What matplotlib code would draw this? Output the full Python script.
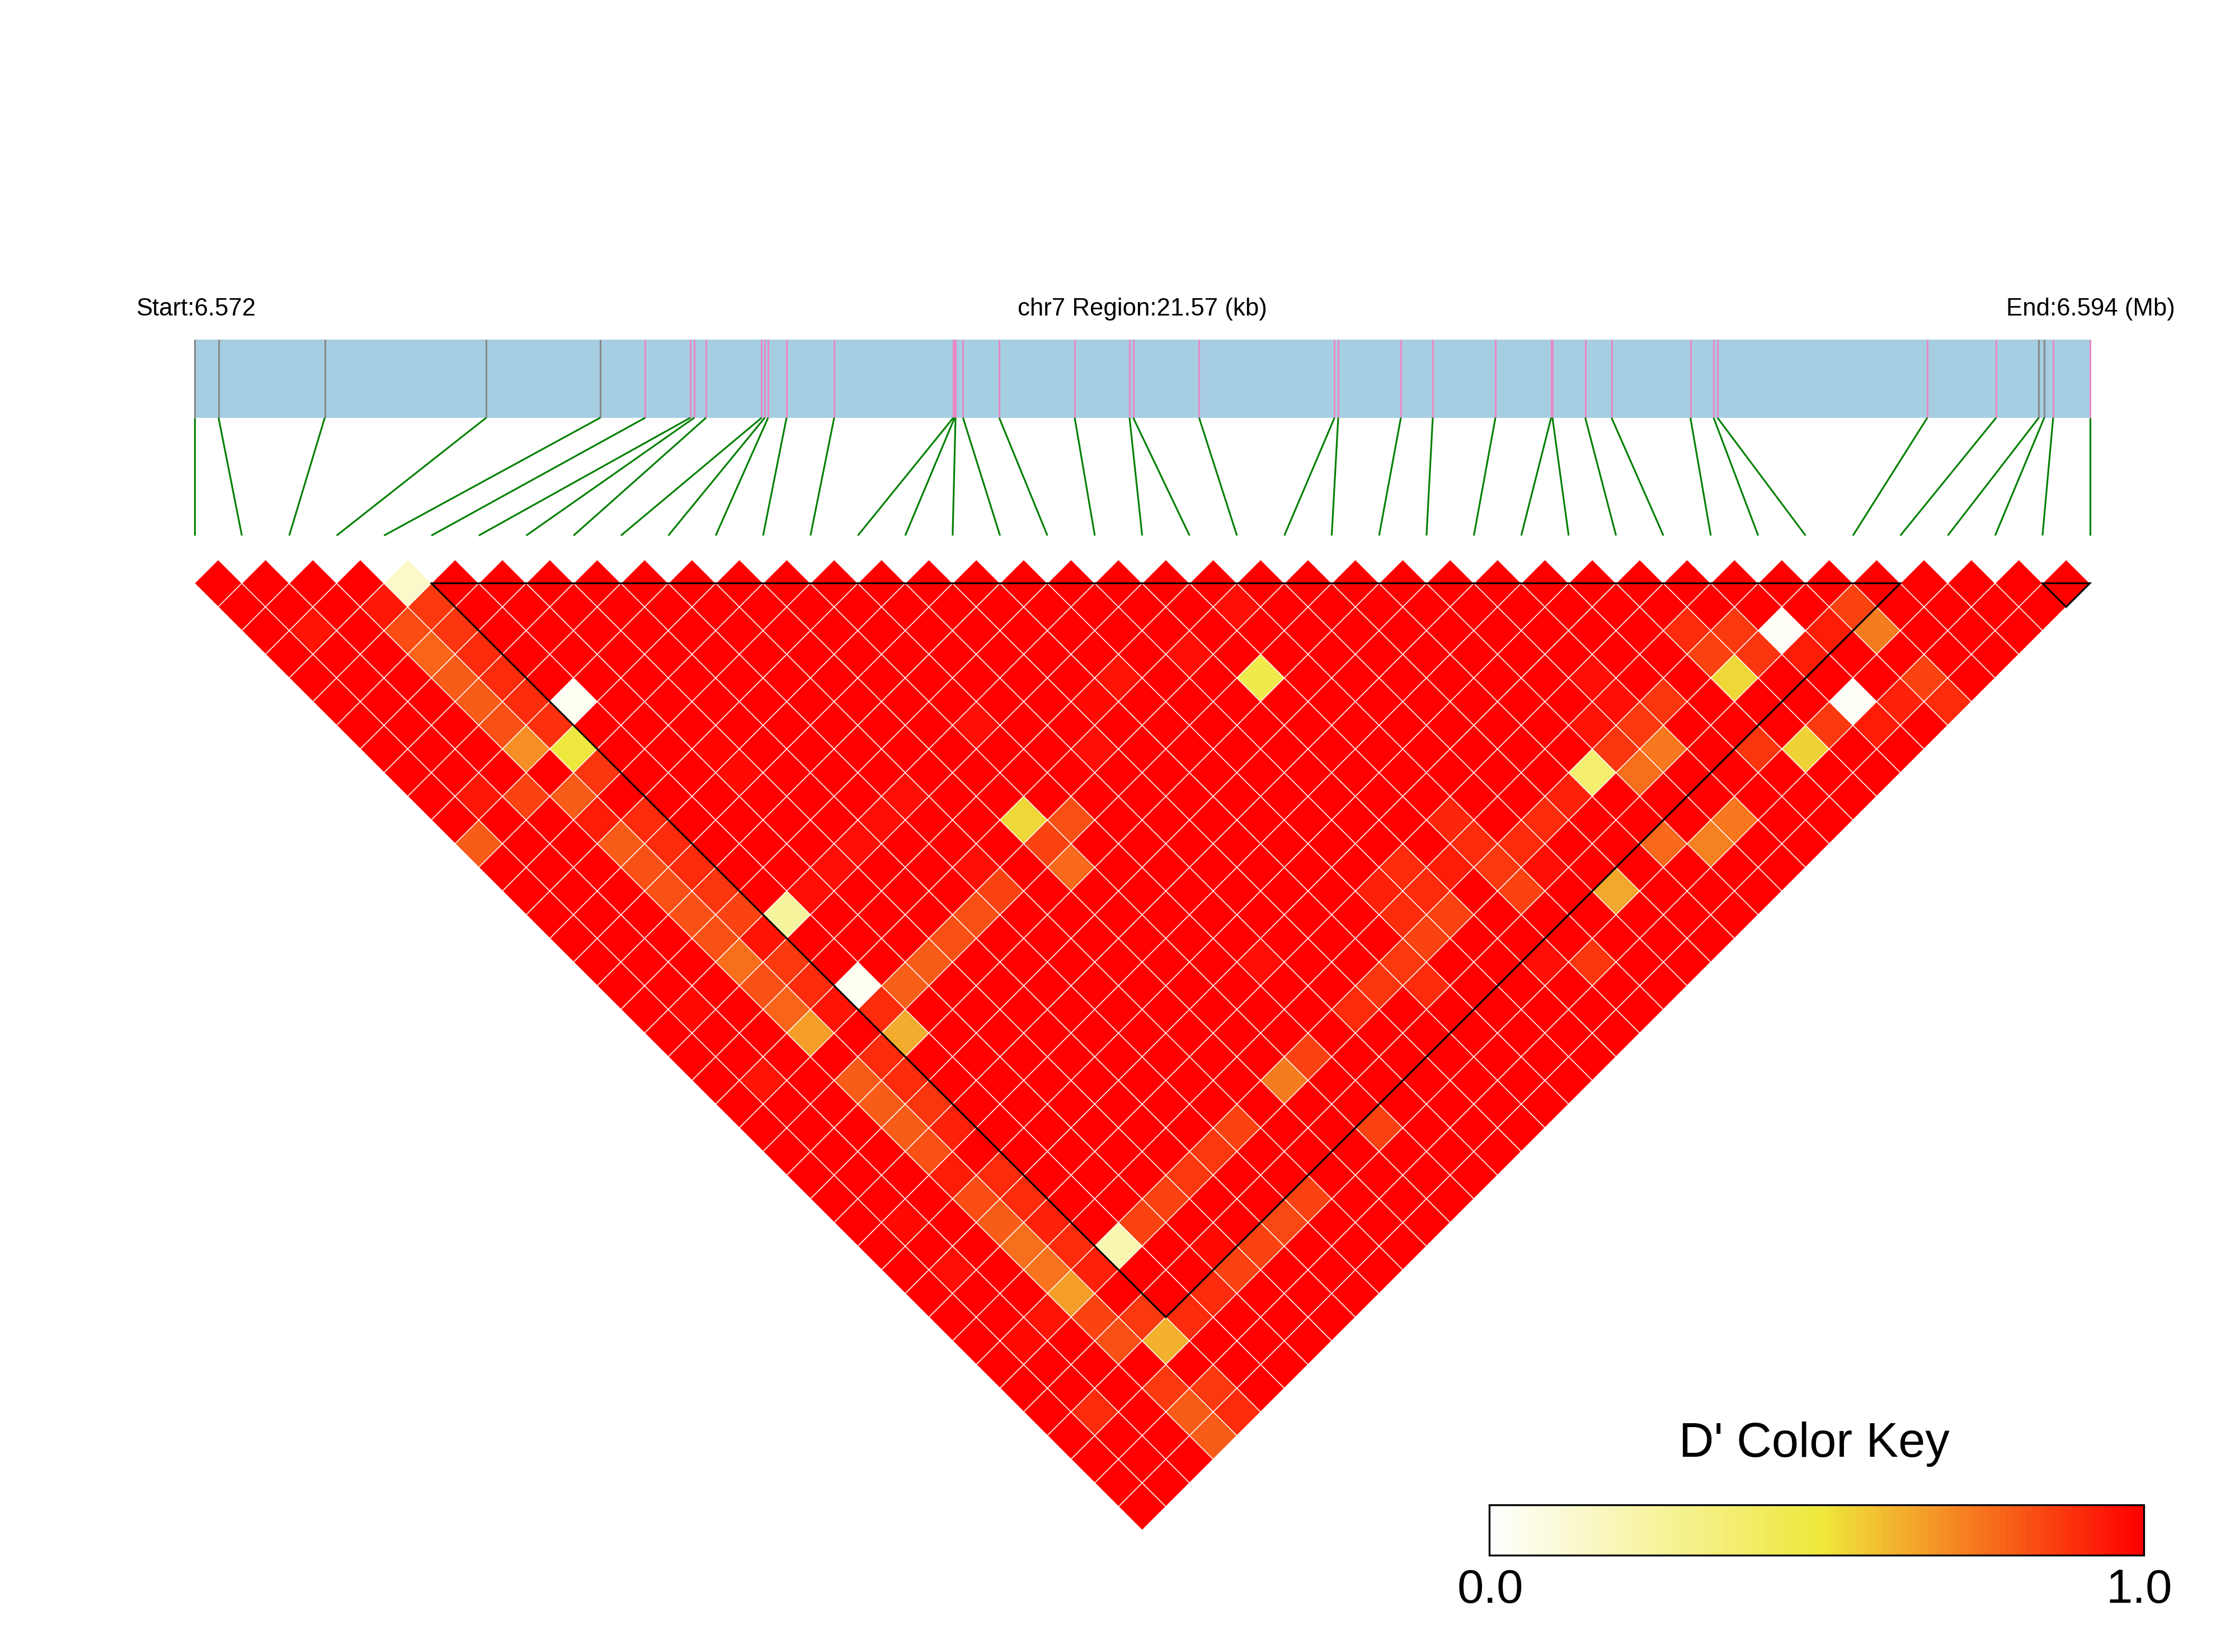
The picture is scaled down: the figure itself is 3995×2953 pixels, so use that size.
import numpy as np
import matplotlib
matplotlib.use("Agg")
import matplotlib.pyplot as plt
from matplotlib.collections import PolyCollection
from matplotlib.colors import LinearSegmentedColormap
from matplotlib.patches import Rectangle

plt.rcParams['font.family'] = ['Liberation Sans', 'DejaVu Sans']

# SNP positions within the region, kb from the region start
snp_kb = [0, .274, 1.483, 3.320, 4.618, 5.130, 5.643, 5.688, 5.822, 6.455, 6.490,
          6.528, 6.738, 7.280, 8.636, 8.651, 8.661, 8.746, 9.158, 10.017, 10.641,
          10.683, 11.433, 12.974, 13.016, 13.729, 14.092, 14.805, 15.439, 15.454,
          15.827, 16.126, 17.024, 17.288, 17.332, 19.720, 20.503, 20.989, 21.051,
          21.152, 21.57]
grey_snps = [0, 1, 2, 3, 4, 37, 38]
region_kb = 21.57

# D' values below 1, as (i+j, j-i-1, value); every other pair has D' = 1
weak_cells = [
 (9,0,.14),(10,1,.87),(8,1,.94),(9,2,.83),(11,2,.88),(5,2,.95),(10,3,.78),(12,3,.9),
 (11,4,.8),(13,4,.9),(12,5,.8),(14,5,.9),(16,5,.03),(13,6,.82),(15,6,.89),(14,7,.69),
 (16,7,.5),(33,6,.96),(17,8,.88),(12,9,.94),(14,9,.85),(16,9,.8),(30,9,.96),(38,7,.96),
 (22,7,.98),(23,8,.97),(12,11,.8),(17,10,.93),(19,10,.9),(29,10,.96),(35,10,.54),(37,10,.82),
 (18,11,.8),(20,11,.9),(28,11,.96),(36,11,.85),(37,12,.77),(19,12,.82),(21,12,.9),(27,12,.96),
 (33,12,.96),(20,13,.82),(22,13,.88),(26,13,.96),(34,13,.85),(21,14,.82),(23,14,.85),(25,14,.25),
 (33,14,.82),(32,15,.82),(31,16,.8),(30,17,.79),(22,15,.82),(24,15,.95),(23,16,.76),(25,16,.87),
 (28,17,.03),(24,17,.82),(26,17,.9),(25,18,.78),(27,18,.95),(29,18,.9),(26,19,.66),(30,19,.63),
 (21,18,.97),(29,20,.9),(28,21,.8),(24,21,.95),(30,21,.9),(29,22,.8),(31,22,.88),(30,23,.8),
 (32,23,.92),(31,24,.82),(32,25,.93),(34,25,.9),(33,26,.83),(35,26,.9),(34,27,.8),(36,27,.92),
 (35,28,.76),(37,28,.9),(39,28,.2),(36,29,.75),(38,29,.92),(37,30,.66),(36,31,.95),(38,31,.85),
 (40,31,.87),(39,32,.82),(41,32,.62),(35,32,.97),(42,31,.9),(43,30,.9),(44,29,.85),(45,28,.85),
 (46,27,.84),(47,26,.85),(40,27,.85),(41,26,.85),(42,25,.87),(43,24,.87),(44,23,.85),(46,21,.73),
 (47,20,.85),(45,16,.96),(50,17,.88),(49,18,.9),(50,23,.85),(41,34,.87),(43,34,.87),(42,35,.8),
 (44,35,.9),(43,36,.8),(38,35,.9),(30,27,.97),(32,29,.96),(43,28,.97),
 (45,4,.46),(44,1,.96),(42,3,.96),(40,4,.95),(39,5,.97),(63,2,.9),(65,2,.87),(67,2,.02),
 (69,2,.93),(70,1,.85),(71,2,.73),(64,3,.85),(66,3,.88),(68,3,.93),(65,4,.54),(62,5,.88),
 (60,5,.96),(61,6,.87),(59,6,.95),(62,7,.74),(60,7,.88),(59,8,.37),(61,8,.76),(58,9,.92),
 (57,10,.9),(53,10,.91),(56,11,.9),(54,11,.9),(55,12,.87),(56,13,.85),(53,12,.93),(51,12,.9),
 (50,13,.92),(52,13,.9),(51,14,.9),(53,14,.85),(52,15,.85),(51,16,.87),(52,17,.9),
 (70,5,.02),(69,6,.87),(71,6,.93),(68,7,.55),(66,7,.88),(72,5,.92),(73,4,.85),(74,5,.9),
 (65,10,.74),(62,11,.77),(64,11,.72),(60,13,.64),(59,16,.88),(57,16,.96),(59,4,.96),(58,12,.96),
]

# LD blocks, as first and last SNP index
blocks = [(5, 36), (39, 40)]

D = np.ones((len(snp_kb), len(snp_kb)))
for s, g, v in weak_cells:
    i, j = (s - g - 1) // 2, (s + g + 1) // 2
    D[i, j] = v

W, H = 3995, 2953
fig = plt.figure(figsize=(W / 300, H / 300), dpi=300)
ax = fig.add_axes([0, 0, 1, 1])
ax.set_xlim(0, W)
ax.set_ylim(H, 0)
ax.axis('off')

X0, X1 = 347.6, 3735.6
BAR_T, BAR_B, END_Y = 607, 746.7, 957.3
TOP_Y = 1042.6
hx = (X1 - X0) / 40 / 2
hy = 42.32
cmap = LinearSegmentedColormap.from_list(
    'dp', [(0, '#FFFFFF'), (.51, '#EFE83C'), (1, '#FF0000')], N=100)


def px(kb):
    return X0 + (X1 - X0) * np.asarray(kb) / region_kb


# gene bar and SNP ticks
ax.add_patch(Rectangle((X0, BAR_T), X1 - X0, BAR_B - BAR_T, fc='#A6CEE3', ec='none'))
n = len(snp_kb)
for k, kb in enumerate(snp_kb):
    xt = px(kb)
    ax.plot([xt, xt], [BAR_T, BAR_B], color='#888888' if k in grey_snps else '#E78AC3',
            lw=0.75, solid_capstyle='butt')
    xe = X0 + k * 2 * hx
    ax.plot([xt, xe], [BAR_B, END_Y], color='#008000', lw=0.75, solid_capstyle='butt')

# heatmap
polys, vals = [], []
for i in range(n):
    for j in range(i + 1, n):
        cx = X0 + (i + j) * hx
        cy = TOP_Y + (j - i - 1) * hy
        polys.append([(cx - hx, cy), (cx, cy - hy), (cx + hx, cy), (cx, cy + hy)])
        vals.append(D[i, j])
pc = PolyCollection(polys, array=np.array(vals), cmap=cmap, clim=(0, 1),
                    edgecolors='white', linewidths=0.35)
ax.add_collection(pc)

# LD block outlines
for a, b in blocks:
    xa = X0 + (2 * a) * hx
    xb = X0 + (2 * b) * hx
    xm = (xa + xb) / 2
    ym = TOP_Y + (b - a) * hy
    ax.plot([xa, xb, xm, xa], [TOP_Y, TOP_Y, ym, TOP_Y], color='black', lw=0.75,
            solid_joinstyle='miter')

# labels
ax.text(243, 564, 'Start:6.572', fontsize=10.5, ha='left', va='baseline')
ax.text(2042, 564, 'chr7 Region:21.57 (kb)', fontsize=10.5, ha='center', va='baseline')
ax.text(3888, 564, 'End:6.594 (Mb)', fontsize=10.5, ha='right', va='baseline')

# colour key
CB_L, CB_R, CB_T, CB_B = 2662, 3832, 2690, 2780
grad = np.linspace(0, 1, 100)[None, :]
ax.imshow(grad, cmap=cmap, vmin=0, vmax=1, extent=(CB_L, CB_R, CB_B, CB_T), aspect='auto',
          interpolation='nearest')
ax.set_xlim(0, W)
ax.set_ylim(H, 0)
ax.add_patch(Rectangle((CB_L, CB_T), CB_R - CB_L, CB_B - CB_T, fc='none', ec='black', lw=0.8))
ax.text(3243, 2604, "D' Color Key", fontsize=20.8, ha='center', va='baseline')
ax.text(2664, 2865, '0.0', fontsize=20.5, ha='center', va='baseline')
ax.text(3824, 2865, '1.0', fontsize=20.5, ha='center', va='baseline')

fig.savefig('out.png', dpi=300, facecolor='white')
